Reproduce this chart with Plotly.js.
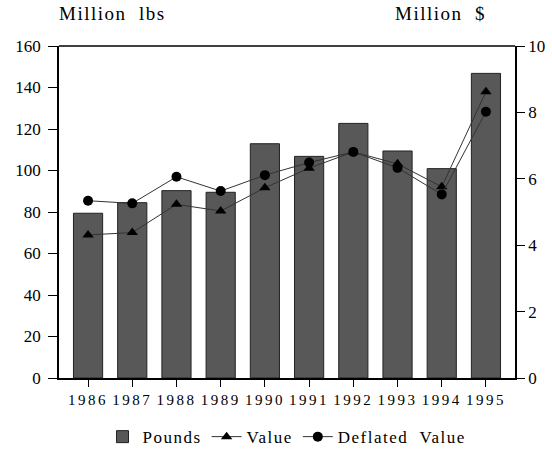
<!DOCTYPE html>
<html>
<head>
<meta charset="utf-8">
<script src="https://cdn.plot.ly/plotly-3.0.1.min.js"></script>
<style>
html,body{margin:0;padding:0;background:#fff;}
#chart{width:552px;height:452px;}
.xtick text { letter-spacing: 2.5px; }
.legendtext, .annotation-text { letter-spacing: 1.5px; }
</style>
</head>
<body>
<div id="chart"></div>
<script>
const years = ['1986','1987','1988','1989','1990','1991','1992','1993','1994','1995'];
const pounds = [79.4, 84.5, 90.3, 89.5, 112.9, 106.8, 122.7, 109.4, 100.9, 146.8];
const value = [4.31, 4.38, 5.23, 5.03, 5.73, 6.32, 6.81, 6.45, 5.76, 8.62];
const deflated = [5.34, 5.26, 6.06, 5.63, 6.11, 6.49, 6.81, 6.33, 5.53, 8.02];

const serif = 'Liberation Serif, Times New Roman, serif';

const traces = [
  {type:'bar', name:'Pounds', x:years, y:pounds,
   marker:{color:'#585858', line:{color:'#222', width:1}}},
  {type:'scatter', mode:'lines+markers', name:'Value', x:years, y:value, yaxis:'y2',
   line:{color:'#333', width:1}, marker:{symbol:'triangle-up', size:10, color:'#000'}},
  {type:'scatter', mode:'lines+markers', name:'Deflated  Value', x:years, y:deflated, yaxis:'y2',
   line:{color:'#333', width:1}, marker:{symbol:'circle', size:10, color:'#000'}}
];

const layout = {
  width:552, height:452,
  margin:{l:59, r:37, t:46, b:74, autoexpand:false},
  paper_bgcolor:'#fff', plot_bgcolor:'#fff',
  font:{family:serif, size:16, color:'#000'},
  bargap:0.34,
  showlegend:true,
  legend:{orientation:'h', x:0.5, xanchor:'center', yref:'container', y:0.033, yanchor:'middle',
          font:{family:serif, size:17}, itemwidth:30, tracegroupgap:0},
  xaxis:{type:'category', showline:true, linecolor:'#000', linewidth:1.5,
         ticks:'outside', ticklen:7, tickcolor:'#000', mirror:false,
         tickfont:{family:serif, size:15}},
  yaxis:{range:[0,160], dtick:20, showline:true, linecolor:'#000', linewidth:1.5,
         ticks:'outside', ticklen:9, tickcolor:'#000', showgrid:false, zeroline:false,
         ticklabelstandoff:4, tickfont:{family:serif, size:17}},
  yaxis2:{range:[0,10], dtick:2, overlaying:'y', side:'right', showline:true,
          linecolor:'#000', linewidth:1.5, ticks:'outside', ticklen:8, tickcolor:'#000',
          showgrid:false, zeroline:false, tickfont:{family:serif, size:17}},
  shapes:[{type:'line', xref:'paper', yref:'paper', x0:0, x1:1, y0:1, y1:1,
           line:{color:'#000', width:1.5}}],
  annotations:[
    {text:'Million  lbs', xref:'paper', yref:'paper', x:-0.005, y:1.06, xanchor:'left', yanchor:'bottom',
     showarrow:false, font:{family:serif, size:19}},
    {text:'Million  $', xref:'paper', yref:'paper', x:0.94, y:1.06, xanchor:'right', yanchor:'bottom',
     showarrow:false, font:{family:serif, size:19}}
  ]
};

Plotly.newPlot('chart', traces, layout, {displayModeBar:false});
</script>
</body>
</html>
